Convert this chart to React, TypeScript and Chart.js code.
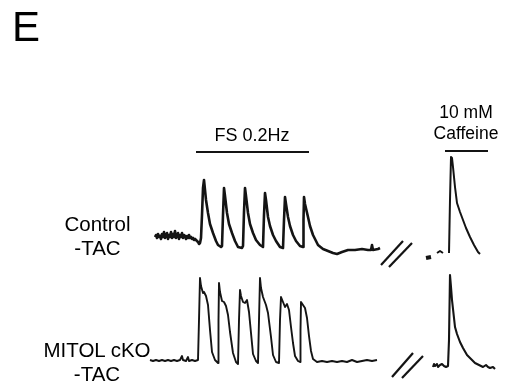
import React, { useEffect, useRef } from "react";
import { Chart, registerables } from "chart.js";

Chart.register(...registerables);

const W = 510;
const H = 381;

// ---- Control -TAC, field stimulation 0.2 Hz (time s, F/F0) ----
const controlFsTime = [
  1.25, 1.5, 1.75, 2.0, 2.25, 2.5, 2.75, 3.0, 3.25, 3.5, 3.75, 4.0, 4.25, 4.5, 4.75, 5.0, 5.25, 5.5, 5.75, 6.0,
  6.25, 6.5, 6.75, 7.0, 7.25, 7.5, 7.75, 8.0, 8.25, 8.5, 8.75, 9.0, 9.25, 9.5, 9.75, 10.0, 10.25, 10.5, 10.75, 11.0,
  11.25, 11.5, 11.75, 12.0, 12.25, 12.5, 12.75, 13.0, 13.25, 13.5, 13.75, 14.0, 14.5, 15.0, 15.75, 16.5, 17.0, 17.75,
  18.0, 18.25, 18.5, 18.75, 19.25, 19.75, 20.5, 21.25, 22.0, 23.0, 23.25, 23.5, 23.75, 24.0, 24.5, 25.0, 25.75, 26.5,
  27.5, 28.25, 28.5, 28.75, 29.0, 29.5, 30.0, 30.75, 31.5, 32.5, 33.25, 33.5, 33.75, 34.0, 34.5, 35.0, 35.75, 36.5,
  37.5, 38.25, 38.375, 38.5, 38.75, 39.5, 40.0, 40.75, 41.5, 42.0, 43.25, 44.5, 45.75, 46.75, 48.0, 49.5, 51.25,
  53.0, 54.5, 55.25, 55.5, 55.75, 57.0, 57.5,
];
const controlFsValue = [
  0.98, 1.02, 0.96, 1.04, 0.98, 1.0, 0.94, 1.04, 0.98, 1.08, 0.96, 1.02, 1.06, 0.94, 1.02, 0.98, 1.08, 0.96, 1.04, 0.98,
  1.1, 0.96, 1.02, 1.06, 0.94, 1.02, 0.98, 1.06, 0.96, 1.02, 1.0, 0.94, 1.0, 0.96, 1.02, 0.96, 0.98, 0.94, 0.96, 0.92,
  0.94, 0.92, 0.9, 0.88, 0.84, 0.86, 0.96, 1.42, 1.96, 2.12, 1.92, 1.72, 1.46, 1.24, 1.06, 0.9, 0.82, 0.78,
  0.8, 1.42, 1.96, 1.8, 1.46, 1.24, 1.06, 0.9, 0.78, 0.76, 0.8, 1.48, 1.96, 1.8, 1.46, 1.24, 1.06, 0.92,
  0.82, 0.78, 1.42, 1.86, 1.72, 1.38, 1.2, 1.02, 0.9, 0.78, 0.76, 1.32, 1.78, 1.64, 1.38, 1.2, 1.02, 0.9,
  0.8, 0.78, 1.32, 1.78, 1.64, 1.38, 1.2, 1.02, 0.9, 0.82, 0.74, 0.7, 0.66, 0.64, 0.68, 0.72, 0.72,
  0.74, 0.72, 0.72, 0.82, 0.72, 0.74, 0.76,
];

// ---- MITOL cKO -TAC, field stimulation 0.2 Hz ----
const mitolFsTime = [
  0, 0.75, 1.5, 2.25, 3.0, 3.75, 4.5, 5.25, 6.0, 6.75, 7.5, 8.0, 8.25, 9.0, 9.5, 9.75, 10.5, 11.25, 12.0,
  12.25, 12.5, 12.75, 13.25, 13.5, 14.0, 14.5, 15.0, 15.5, 16.25, 17.0,
  17.125, 17.25, 17.5, 18.0, 18.5, 19.0, 19.5, 20.0, 20.75, 21.5, 22.0,
  22.25, 22.5, 22.75, 23.25, 23.75, 24.25, 24.75, 25.25, 25.75, 26.5, 27.0,
  27.25, 27.5, 27.75, 28.25, 29.0, 29.5, 30.25, 30.75, 31.5, 32.25,
  32.5, 32.75, 33.25, 33.75, 34.25, 34.75, 35.25, 35.75, 36.25, 37.0, 37.5,
  37.625, 37.75, 38.25, 38.75, 39.25, 39.75, 40.25, 40.75, 41.75, 43.0, 44.25, 45.5, 46.75, 48.0, 49.25, 50.5,
  51.75, 53.0, 54.25, 55.5, 56.75,
];
const mitolFsValue = [
  1.0, 0.98, 1.0, 0.98, 1.0, 0.98, 1.0, 0.98, 1.0, 0.98, 1.0, 1.08, 1.0, 0.98, 1.06, 0.98, 1.0, 0.98, 1.0,
  1.8, 2.64, 2.48, 2.34, 2.36, 2.28, 2.1, 1.6, 1.16, 1.0, 0.94,
  1.8, 2.54, 2.36, 2.18, 2.16, 2.08, 1.9, 1.56, 1.14, 0.96, 0.92,
  1.8, 2.4, 2.28, 2.16, 2.14, 2.2, 1.96, 1.54, 1.12, 0.98, 0.94,
  1.8, 2.64, 2.44, 2.26, 2.1, 1.94, 1.46, 1.1, 0.96, 0.94,
  1.8, 2.26, 2.16, 2.06, 2.12, 2.0, 1.66, 1.34, 1.08, 0.98, 0.96,
  1.6, 2.16, 2.1, 2.04, 1.84, 1.48, 1.18, 1.02, 0.96, 0.98, 0.96, 0.98, 0.96, 0.98, 0.96, 1.0,
  0.96, 0.98, 1.0, 0.98, 1.0,
];

// ---- 10 mM caffeine, Control -TAC (visible parts only; null = hidden) ----
const controlCafDotTime = [0, 1.25];
const controlCafDotValue = [0.96, 0.98];
const controlCafTime = [2.75, 3.5, 4.25, 5.0, 5.75, 6.0, 6.25, 6.5, 6.75, 7.25, 7.75, 8.5, 9.25, 10.0, 11.0, 12.0, 13.0, 13.5];
const controlCafValue = [1.06, 1.1, 1.06, null, 1.06, 2.12, 2.98, 2.96, 2.78, 2.38, 2.06, 1.88, 1.72, 1.56, 1.38, 1.22, 1.08, 1.04];

// ---- 10 mM caffeine, MITOL cKO -TAC ----
const mitolCafTime = [1.75, 2.0, 2.25, 2.75, 3.0, 3.5, 4.0, 4.5, 5.0, 5.5, 5.75, 6.0, 6.25, 6.5, 7.25, 7.75, 8.5, 9.25, 10.25, 11.25, 12.25, 13.25, 14.25, 15.0, 15.5, 16.0, 16.75, 17.25];
const mitolCafValue = [1.0, 1.06, 1.02, 1.06, 1.0, 1.04, 1.06, 1.02, 1.0, 1.02, 1.54, 2.84, 2.6, 2.34, 1.8, 1.66, 1.5, 1.38, 1.24, 1.16, 1.08, 1.04, 1.0, 1.04, 1.0, 0.98, 1.0, 0.96];

// ---- Stimulus bars (time span, level) ----
const fsBarTime = [11.5, 39.75];
const fsBarLevel = 2.68;
const cafBarTime = [4.75, 15.5];
const cafBarLevel = 3.1;

// ---- Axis-break marks (//) in the FS time frame ----
const breakTopTime = [[57.75, 63.25], [59.75, 65.5]];
const breakTopValue = [[0.42, 0.9], [0.38, 0.86]];
const breakBotTime = [[60.5, 65.75], [63, 68.25]];
const breakBotValue = [[0.66, 1.14], [0.64, 1.08]];

// ---- Layout frames: where each trace sits in the panel ----
const frameX = {
  fs: { origin: 150, perUnit: 4 },
  caf: { origin: 426, perUnit: 4 },
};
const frameY = {
  ctrlFs: { base: 236, perUnit: 50 },
  ctrlCaf: { base: 256, perUnit: 50 },
  mitolFs: { base: 360, perUnit: 50 },
  mitolCaf: { base: 367, perUnit: 50 },
};

const xScale = (f: { origin: number; perUnit: number }) => ({
  type: "linear" as const,
  display: false,
  min: (0 - f.origin) / f.perUnit,
  max: (W - f.origin) / f.perUnit,
});
const yScale = (f: { base: number; perUnit: number }) => ({
  type: "linear" as const,
  display: false,
  min: 1 - (H - f.base) / f.perUnit,
  max: 1 + f.base / f.perUnit,
});

const zip = (t: number[], v: (number | null)[]) => t.map((x, i) => ({ x, y: v[i] }));

const INK = "#141414";
const FONT = "'Liberation Sans', Arial, Helvetica, sans-serif";

export default function App() {
  const ref = useRef<HTMLCanvasElement | null>(null);

  useEffect(() => {
    if (!ref.current) return;
    const line = (data: any[], xAxisID: string, yAxisID: string, width: number) => ({
      data,
      xAxisID,
      yAxisID,
      borderColor: INK,
      borderWidth: width,
      pointRadius: 0,
      tension: 0,
      spanGaps: false,
      fill: false,
      borderJoinStyle: "round" as const,
      borderCapStyle: "butt" as const,
    });
    const datasets: any[] = [
      line(zip(controlFsTime, controlFsValue), "xFs", "yCtrlFs", 2.6),
      line(zip(mitolFsTime, mitolFsValue), "xFs", "yMitolFs", 1.9),
      line(zip(controlCafDotTime, controlCafDotValue), "xCaf", "yCtrlCaf", 4),
      line(zip(controlCafTime, controlCafValue), "xCaf", "yCtrlCaf", 2),
      line(zip(mitolCafTime, mitolCafValue), "xCaf", "yMitolCaf", 2.1),
      line(zip(fsBarTime, [fsBarLevel, fsBarLevel]), "xFs", "yCtrlFs", 2),
      line(zip(cafBarTime, [cafBarLevel, cafBarLevel]), "xCaf", "yCtrlCaf", 2),
    ];
    breakTopTime.forEach((t, i) => datasets.push(line(zip(t, breakTopValue[i]), "xFs", "yCtrlFs", 2.2)));
    breakBotTime.forEach((t, i) => datasets.push(line(zip(t, breakBotValue[i]), "xFs", "yMitolFs", 2.2)));

    const chart = new Chart(ref.current, {
      type: "line",
      data: { datasets },
      options: {
        animation: false,
        responsive: false,
        devicePixelRatio: 1,
        layout: { padding: 0 },
        plugins: { legend: { display: false }, tooltip: { enabled: false }, title: { display: false } },
        scales: {
          xFs: xScale(frameX.fs),
          xCaf: xScale(frameX.caf),
          yCtrlFs: yScale(frameY.ctrlFs),
          yCtrlCaf: yScale(frameY.ctrlCaf),
          yMitolFs: yScale(frameY.mitolFs),
          yMitolCaf: yScale(frameY.mitolCaf),
        } as any,
      },
    });
    return () => chart.destroy();
  }, []);

  const txt = (style: React.CSSProperties): React.CSSProperties => ({
    position: "absolute",
    fontFamily: FONT,
    color: "#000",
    textAlign: "center",
    whiteSpace: "nowrap",
    ...style,
  });

  return (
    <div style={{ position: "absolute", left: 0, top: 0, width: W, height: H, background: "#fff", overflow: "hidden" }}>
      <canvas ref={ref} width={W} height={H} style={{ position: "absolute", left: 0, top: 0, width: W, height: H }} />
      <div style={txt({ left: 12, top: 5.5, fontSize: 42, lineHeight: "42px", textAlign: "left" })}>E</div>
      <div style={txt({ left: 192, top: 125, width: 120, fontSize: 18, lineHeight: "20px" })}>FS 0.2Hz</div>
      <div style={txt({ left: 416, top: 101.5, width: 100, fontSize: 17.5, lineHeight: "21px" })}>
        10 mM<br />Caffeine
      </div>
      <div style={txt({ left: 37, top: 212, width: 121, fontSize: 20.5, lineHeight: "24px" })}>
        Control<br />-TAC
      </div>
      <div style={txt({ left: 36.5, top: 338, width: 121, fontSize: 20.5, lineHeight: "24px" })}>
        MITOL cKO<br />-TAC
      </div>
    </div>
  );
}
